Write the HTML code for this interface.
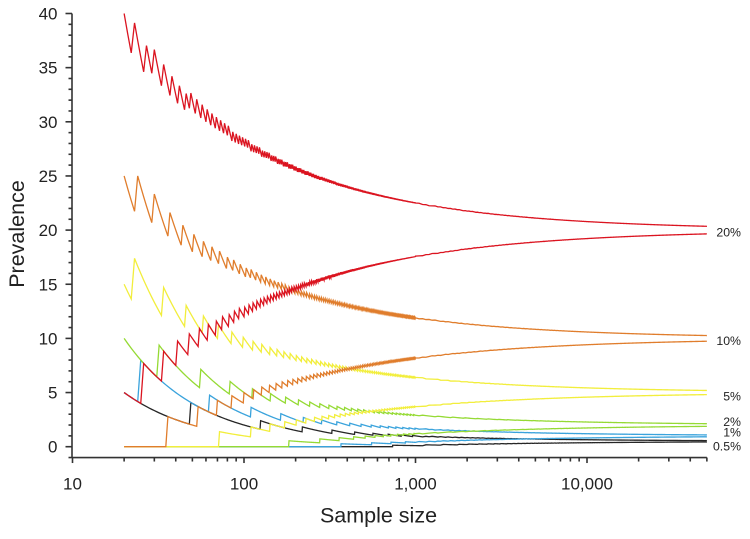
<!DOCTYPE html>
<html>
<head>
<meta charset="utf-8">
<style>
html,body{margin:0;padding:0;background:#fff;}
svg{display:block;}
text{font-family:"Liberation Sans",Arial,sans-serif;fill:#222;}
</style>
</head>
<body>
<svg id="chart" width="750" height="539" viewBox="0 0 750 539" xmlns="http://www.w3.org/2000/svg">
  <rect width="750" height="539" fill="#fff"/>
  <g id="curves" fill="none" stroke-width="1.3" stroke-linejoin="miter"></g>
  <g id="axes" stroke="#333" stroke-width="1.6" fill="none"></g>
  <g id="labels"></g>
  <text x="378.5" y="522.5" font-size="21.5" text-anchor="middle">Sample size</text>
  <text transform="translate(24,234) rotate(-90)" font-size="21.5" text-anchor="middle">Prevalence</text>
  <g font-size="12.3" text-anchor="end">
    <text x="741" y="236.3">20%</text>
    <text x="741" y="345">10%</text>
    <text x="741" y="400.6">5%</text>
    <text x="741" y="426">2%</text>
    <text x="741" y="436.6">1%</text>
    <text x="741" y="450.3">0.5%</text>
  </g>
</svg>
<script>
(function(){
  var NS="http://www.w3.org/2000/svg";
  var X0=72.5, DEC=171.5, Y0=446.7, YS=10.83;
  function X(n){return X0+DEC*(Math.log10(n)-1);}
  function Y(v){return Y0-YS*v;}
  function el(tag,attrs,parent,txt){var e=document.createElementNS(NS,tag);for(var k in attrs)e.setAttribute(k,attrs[k]);if(txt!==undefined)e.textContent=txt;parent.appendChild(e);return e;}

  var ax=document.getElementById('axes');
  var lb=document.getElementById('labels');
  var yBot=Y(-1);
  el('line',{x1:72,y1:Y(40),x2:72,y2:yBot},ax);
  el('line',{x1:72,y1:yBot,x2:X(50000),y2:yBot},ax);
  for(var v=-1;v<=40;v++){
    var major=(v%5===0);
    var y=Y(v);
    el('line',{x1:major?65.5:68.5,y1:y,x2:72,y2:y},ax);
    if(major && v>=0){
      el('text',{x:57.5,y:y+6,'font-size':17,'text-anchor':'end'},lb,String(v));
    }
  }
  var decs=[10,100,1000,10000];
  var names=["10","100","1,000","10,000"];
  for(var d=0;d<decs.length;d++){
    var b=decs[d];
    var x=X(b);
    el('line',{x1:x,y1:yBot,x2:x,y2:yBot+5.5},ax);
    el('text',{x:x,y:489.5,'font-size':17,'text-anchor':'middle'},lb,names[d]);
    for(var m=2;m<=9;m++){
      var n=b*m; if(n>50000)break;
      var xm=X(n);
      el('line',{x1:xm,y1:yBot,x2:xm,y2:yBot+4},ax);
    }
  }

  var LC=[0.99999999999980993,676.5203681218851,-1259.1392167224028,771.32342877765313,-176.61502916214059,12.507343278686905,-0.13857109526572012,9.9843695780195716e-6,1.5056327351493116e-7];
  function lgamma(x){x-=1;var a=LC[0];var t=x+7.5;for(var i=1;i<9;i++)a+=LC[i]/(x+i);return 0.5*Math.log(2*Math.PI)+(x+0.5)*Math.log(t)-t+Math.log(a);}
  function quants(n,p){
    var sd=Math.sqrt(n*p*(1-p));
    var m=Math.floor((n+1)*p); if(m>n)m=n;
    var W=Math.ceil(12*sd+15);
    var lo=Math.max(0,m-W), hi=Math.min(n,m+W);
    var arr=new Float64Array(hi-lo+1);
    arr[m-lo]=Math.exp(lgamma(n+1)-lgamma(m+1)-lgamma(n-m+1)+m*Math.log(p)+(n-m)*Math.log(1-p));
    var r=(1-p)/p, s=p/(1-p), k;
    for(k=m;k>lo;k--)arr[k-1-lo]=arr[k-lo]*k/(n-k+1)*r;
    for(k=m;k<hi;k++)arr[k+1-lo]=arr[k-lo]*(n-k)/(k+1)*s;
    var c=0,kl=-1,ku=hi;
    for(k=lo;k<=hi;k++){
      c+=arr[k-lo];
      if(kl<0 && c>=0.025-1e-10)kl=k;
      if(c>=0.975-1e-10){ku=k;break;}
    }
    if(kl<0)kl=lo;
    return [kl,ku];
  }
  var ns=[];
  for(var i=20;i<=1000;i++)ns.push(i);
  for(var i=1050;i<=50000;i+=50)ns.push(i);

  var series=[
    [0.005,'#262626'],
    [0.01,'#3aa3dc'],
    [0.02,'#95da34'],
    [0.05,'#f2ee3c'],
    [0.10,'#e07d2c'],
    [0.20,'#db1420']
  ];
  var g=document.getElementById('curves');
  for(var si=0;si<series.length;si++){
    var p=series[si][0], col=series[si][1];
    var lo='',hi='';
    for(var j=0;j<ns.length;j++){
      var n=ns[j];
      var q=quants(n,p);
      var x=X(n).toFixed(2);
      var cmd=(j===0?'M':'L');
      lo+=cmd+x+','+Y(100*q[0]/n).toFixed(2);
      hi+=cmd+x+','+Y(100*q[1]/n).toFixed(2);
    }
    el('path',{d:lo,stroke:col},g);
    el('path',{d:hi,stroke:col},g);
  }
})();
</script>
</body>
</html>
